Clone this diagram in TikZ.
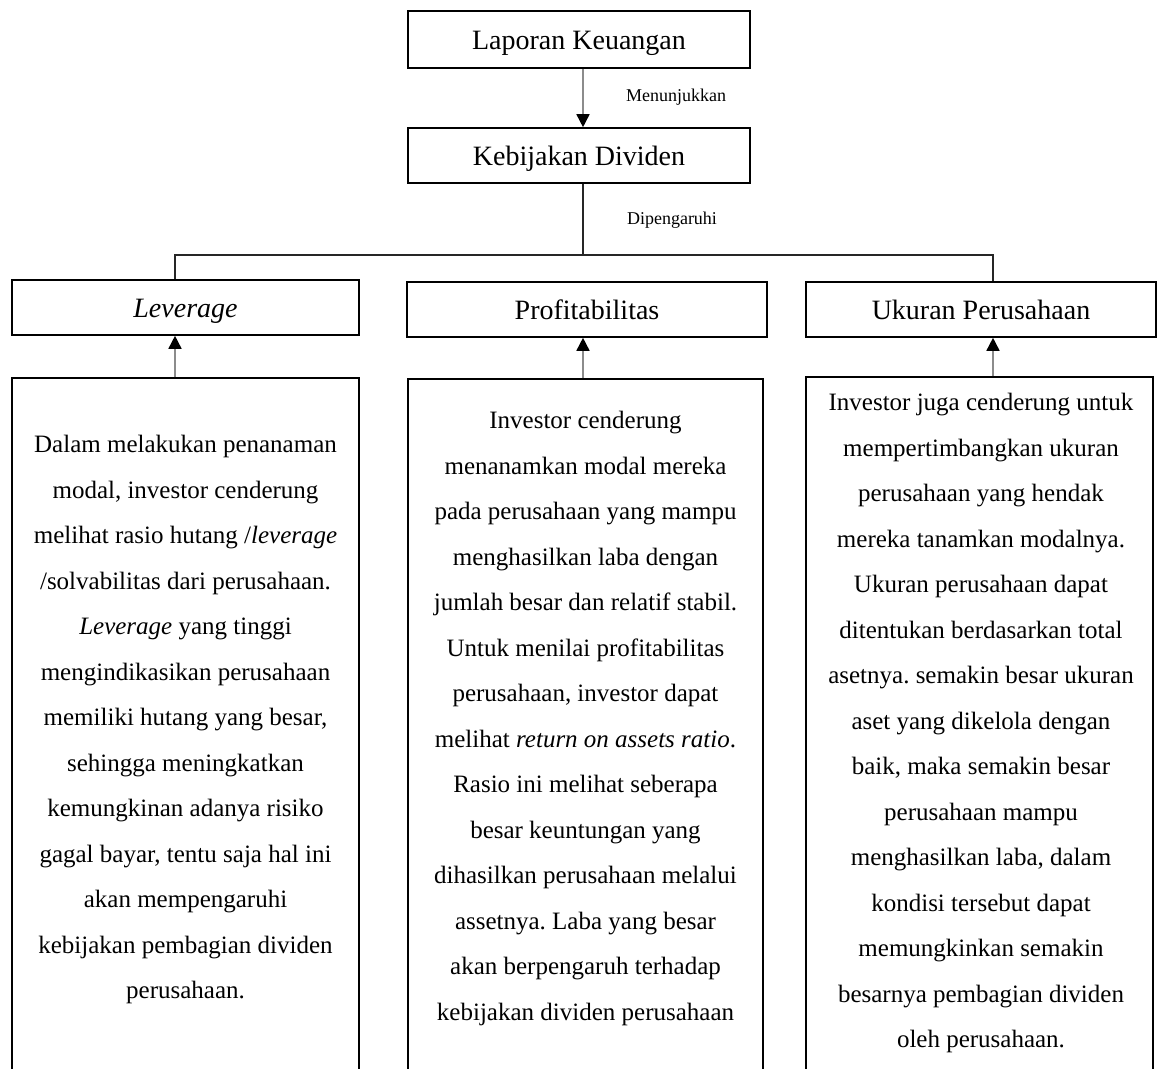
\documentclass[tikz,border=0pt]{standalone}
\usepackage{fontspec}
\setmainfont{Liberation Serif}
\frenchspacing
\usetikzlibrary{arrows.meta}
\tikzset{
  x=1pt,y=-1pt,
  titlebox/.style={draw=black,line width=1.6pt,inner sep=0pt,text height=25pt,text depth=6pt,font=\fontsize{28}{32}\selectfont},
  textframe/.style={draw=black,line width=1.6pt,inner sep=0pt},
  bodytext/.style={inner sep=0pt,align=center,font=\fontsize{25}{45.5}\selectfont,anchor=north},
  lbl/.style={inner sep=0pt,font=\fontsize{18}{20}\selectfont},
  graylink/.style={draw=black!45,line width=1.6pt,-{Triangle[width=13pt,length=13pt,color=black]}},
  buslink/.style={draw=black!85,line width=1.6pt}
}
\begin{document}
\begin{tikzpicture}
\useasboundingbox (0,0) rectangle (1159,1068);
% title boxes
\node[titlebox,minimum width=342pt,minimum height=57pt] (lk) at (579,39.5) {Laporan Keuangan};
\node[titlebox,minimum width=342pt,minimum height=55pt] (kd) at (579,155.5) {Kebijakan Dividen};
\node[titlebox,minimum width=347pt,minimum height=55pt] (lev) at (185.5,307.5) {\textit{Leverage}};
\node[titlebox,minimum width=360pt,minimum height=55pt] (prof) at (587,309.5) {Profitabilitas};
\node[titlebox,minimum width=350pt,minimum height=55pt] (uk) at (981,309.5) {Ukuran Perusahaan};
% text frames (extend below the page)
\node[textframe,minimum width=347pt,minimum height=702pt] (lt) at (185.5,729) {};
\node[textframe,minimum width=355pt,minimum height=701pt] (mt) at (585.5,729.5) {};
\node[textframe,minimum width=347pt,minimum height=703pt] (rt) at (979.5,728.5) {};
% coordinates
\coordinate (ax) at (583,0);
\coordinate (b0) at (583,255);
\coordinate (bL) at (175,255);
\coordinate (bR) at (993,255);
\coordinate (xL) at (175,0);
\coordinate (xM) at (583,0);
\coordinate (xR) at (993,0);
% connectors
\draw[graylink] (lk.south -| ax) -- (kd.north -| ax);
\node[lbl] (men) at (676,97) {Menunjukkan};
\draw[buslink] (kd.south -| ax) -- (b0);
\node[lbl] (dip) at (672,220) {Dipengaruhi};
\draw[buslink] (lev.north -| bL) -- (bL) -- (bR) -- (uk.north -| bR);
\draw[graylink] (lt.north -| xL) -- (lev.south -| xL);
\draw[graylink] (mt.north -| xM) -- (prof.south -| xM);
\draw[graylink] (rt.north -| xR) -- (uk.south -| xR);
% body texts
\node[bodytext] (ltx) at (185.5,435) {Dalam melakukan penanaman\\
modal, investor cenderung\\
melihat rasio hutang /\textit{leverage}\\
/solvabilitas dari perusahaan.\\
\textit{Leverage} yang tinggi\\
mengindikasikan perusahaan\\
memiliki hutang yang besar,\\
sehingga meningkatkan\\
kemungkinan adanya risiko\\
gagal bayar, tentu saja hal ini\\
akan mempengaruhi\\
kebijakan pembagian dividen\\
perusahaan.};
\node[bodytext] (mtx) at (585.5,411) {Investor cenderung\\
menanamkan modal mereka\\
pada perusahaan yang mampu\\
menghasilkan laba dengan\\
jumlah besar dan relatif stabil.\\
Untuk menilai profitabilitas\\
perusahaan, investor dapat\\
melihat \textit{return on assets ratio}.\\
Rasio ini melihat seberapa\\
besar keuntungan yang\\
dihasilkan perusahaan melalui\\
assetnya. Laba yang besar\\
akan berpengaruh terhadap\\
kebijakan dividen perusahaan};
\node[bodytext] (rtx) at (981,393) {Investor juga cenderung untuk\\
mempertimbangkan ukuran\\
perusahaan yang hendak\\
mereka tanamkan modalnya.\\
Ukuran perusahaan dapat\\
ditentukan berdasarkan total\\
asetnya. semakin besar ukuran\\
aset yang dikelola dengan\\
baik, maka semakin besar\\
perusahaan mampu\\
menghasilkan laba, dalam\\
kondisi tersebut dapat\\
memungkinkan semakin\\
besarnya pembagian dividen\\
oleh perusahaan.};
\end{tikzpicture}
\end{document}
